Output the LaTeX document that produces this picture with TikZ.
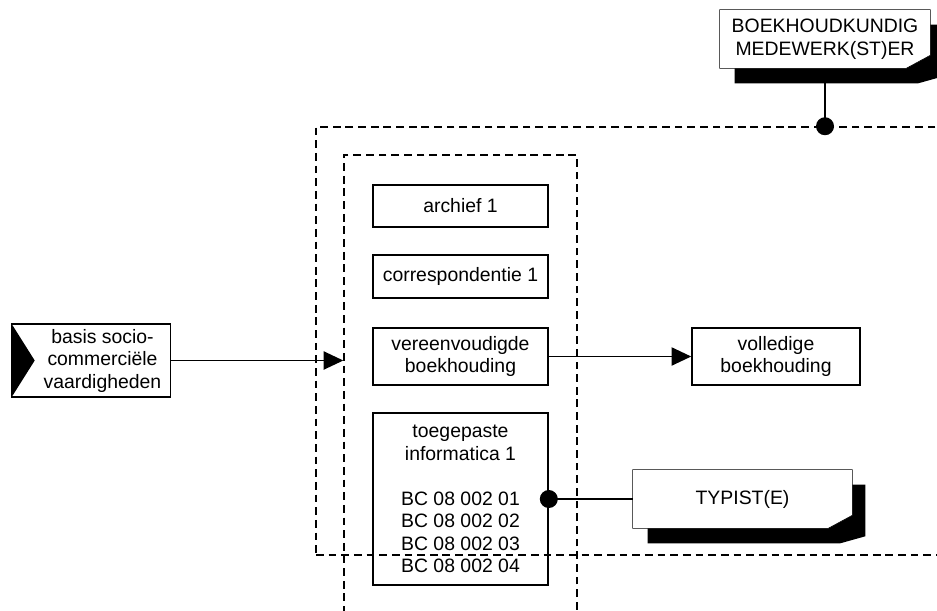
\documentclass[tikz,border=0pt]{standalone}
\usepackage{fontspec}
\setmainfont{Liberation Sans}
\usetikzlibrary{arrows.meta,calc,backgrounds}

% schaduw en omgevouwen hoek van een rolvak
\newcommand\rolvak[1]{%
  \fill ($(#1.north west)+(15,15)$) -- ($(#1.north east)+(13,15)$)
    -- ($(#1.south east)+(13,8)$) -- ($(#1.south east)+(-12,15)$)
    -- ($(#1.south west)+(15,15)$) -- cycle;
  \filldraw[fill=white] (#1.north west) -- (#1.north east)
    -- ($(#1.south east)+(0,-13)$) -- ($(#1.south east)+(-24,0)$)
    -- (#1.south west) -- cycle;
}

\tikzset{
  tekst/.style={font=\fontsize{13.8pt}{16pt}\selectfont, align=center},
  vak/.style={tekst, draw, line width=1.1pt, minimum width=4.375cm},
  rol/.style={tekst, minimum height=1.45cm},
  streep/.style={dash pattern=on 5.5pt off 3.5pt, line width=1pt},
  pijl/.style={line width=1pt, -{Triangle[length=14pt,width=13pt]}},
  bol/.style={fill, circle, inner sep=0pt, minimum size=0.45cm}
}

\begin{document}
\begin{tikzpicture}[x=0.025cm, y=-0.025cm]
  \useasboundingbox (0,0) rectangle (937,610);

  % kaders
  \node[streep, draw, minimum width=17.1cm, minimum height=10.7cm] (opleiding) at (658,341) {};
  \node[streep, draw, minimum width=5.825cm, minimum height=12.5cm] (kolom) at (460.5,405) {};

  % modules
  \node[vak, minimum height=1.05cm] (archief) at (460.5,206) {archief 1};
  \node[vak, minimum height=1.075cm] (corresp) at (460.5,276.5) {correspondentie 1};
  \node[vak, minimum height=1.425cm] (vereenv) at (460.5,356.5) {vereenvoudigde\\boekhouding};
  \node[vak, minimum height=4.3cm] (toegep) at (460.5,499)
    {toegepaste\\informatica 1\\[16pt]BC 08 002 01\\BC 08 002 02\\BC 08 002 03\\BC 08 002 04};
  \node[vak, minimum width=4.2cm, minimum height=1.425cm] (volledig) at (776,356.5) {volledige\\boekhouding};

  % instap
  \node[tekst, minimum width=3.375cm, minimum height=1.625cm] (basis) at (102.5,360.5)
    {basis socio-\\commerciële\\vaardigheden};
  \draw[line width=1.1pt] ($(basis.north west)+(-23,0)$) rectangle (basis.south east);
  \fill ($(basis.north west)+(-23,0)$) -- ($(basis.west)$) -- ($(basis.south west)+(-23,0)$) -- cycle;

  % rollen
  \node[rol, minimum width=5.25cm] (boekh) at (825,39) {BOEKHOUDKUNDIG\\MEDEWERK(ST)ER};
  \node[rol, minimum width=5.475cm] (typist) at (742.5,499) {TYPIST(E)};
  \begin{scope}[on background layer, line width=1.1pt]
    \rolvak{boekh}
    \rolvak{typist}
  \end{scope}

  % verbindingen
  \draw[pijl] (basis.east) -- (basis.east -| kolom.west);
  \draw[pijl] (vereenv.east) -- (volledig.west);
  \coordinate (koppel) at (boekh.south |- opleiding.north);
  \draw[line width=1pt] ($(boekh.south)+(0,15)$) -- (koppel);
  \node[bol] at (koppel) {};
  \draw[line width=1pt] (toegep.east) -- (typist.west);
  \node[bol] at (toegep.east) {};
\end{tikzpicture}
\end{document}
